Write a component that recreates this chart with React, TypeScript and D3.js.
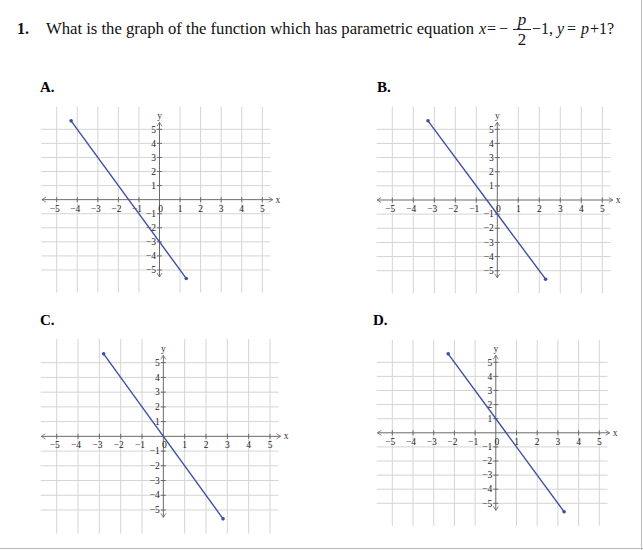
import React from 'react';
import * as d3 from 'd3';

// answer options, each one a line through two end points (p units)
const options = ['A.', 'B.', 'C.', 'D.'];
const lineA = [[-4.3, 5.6], [1.3, -5.6]];
const lineB = [[-3.3, 5.6], [2.3, -5.6]];
const lineC = [[-2.8, 5.6], [2.8, -5.6]];
const lineD = [[-2.3, 5.6], [3.3, -5.6]];
const lines = [lineA, lineB, lineC, lineD];

const ticks = [-5, -4, -3, -2, -1, 1, 2, 3, 4, 5];

// page boxes of each panel: x from -5 to 5, y from -5 to 5
const panels = [
  { label: [40, 92], xr: [56.7, 262.3], yr: [270, 129.3] },
  { label: [377, 92], xr: [392.3, 602.3], yr: [270.7, 129.3] },
  { label: [40, 325], xr: [56.7, 270], yr: [510, 362.7] },
  { label: [373, 325], xr: [392.3, 599.3], yr: [503.3, 362.3] },
];

const gridColor = '#d4d4d4';
const axisColor = '#6a6a6a';
const lineColor = '#3f4fa3';
const serif = '"Liberation Serif", "DejaVu Serif", serif';

function Panel({ box, pts, label }) {
  const x = d3.scaleLinear().domain([-5, 5]).range(box.xr);
  const y = d3.scaleLinear().domain([-5, 5]).range(box.yr);
  const line = d3.line().x(d => x(d[0])).y(d => y(d[1]));
  const x0 = x(0), y0 = y(0);

  return (
    <g>
      <text x={box.label[0]} y={box.label[1]} fontFamily={serif} fontWeight='bold' fontSize={15}>{label}</text>

  {/* grid */}
      {ticks.map(t => (
        <line key={'v' + t} x1={x(t)} x2={x(t)} y1={y(6.6)} y2={y(-6.6)} stroke={gridColor} />
      ))}
      {ticks.map(t => (
        <line key={'h' + t} x1={x(-5.75)} x2={x(5.4)} y1={y(t)} y2={y(t)} stroke={gridColor} />
      ))}

  {/* axes */}
      <line x1={x(-5.72)} x2={x(5.5)} y1={y0} y2={y0} stroke={axisColor} />
      <line x1={x0} x2={x0} y1={y(5.5)} y2={y(-5.5)} stroke={axisColor} />
      <path d={`M${x(-5.72) + 4},${y0 - 2.5}L${x(-5.72)},${y0}L${x(-5.72) + 4},${y0 + 2.5}`} fill='none' stroke={axisColor} strokeWidth={0.8} />
      <path d={`M${x(5.5) - 4},${y0 - 2.5}L${x(5.5)},${y0}L${x(5.5) - 4},${y0 + 2.5}`} fill='none' stroke={axisColor} strokeWidth={0.8} />
      <path d={`M${x0 - 2.5},${y(5.5) + 4}L${x0},${y(5.5)}L${x0 + 2.5},${y(5.5) + 4}`} fill='none' stroke={axisColor} strokeWidth={0.8} />
      <path d={`M${x0 - 2.5},${y(-5.5) - 4}L${x0},${y(-5.5)}L${x0 + 2.5},${y(-5.5) - 4}`} fill='none' stroke={axisColor} strokeWidth={0.8} />
      <text x={x(5.5) + 3} y={y0 + 3} fontFamily={serif} fontSize={9.5} fill='#333'>x</text>
      <text x={x0} y={y(5.5) - 3} fontFamily={serif} fontSize={9.5} fill='#333' textAnchor='middle'>y</text>

  {/* ticks and labels */}
      {ticks.map(t => (
        <g key={'xt' + t}>
          <line x1={x(t)} x2={x(t)} y1={y0 - 2.5} y2={y0 + 2.5} stroke={axisColor} />
          <text x={x(t) - (t < 0 ? 2 : 0)} y={y0 + 12} fontFamily={serif} fontSize={9.5} fill='#222' textAnchor='middle'>{t < 0 ? '\u2212' + (-t) : t}</text>
        </g>
      ))}
      {ticks.map(t => (
        <g key={'yt' + t}>
          <line x1={x0 - 2.5} x2={x0 + 2.5} y1={y(t)} y2={y(t)} stroke={axisColor} />
          <text x={x0 - 3.5} y={y(t) + 3.2} fontFamily={serif} fontSize={9.5} fill='#222' textAnchor='end'>{t < 0 ? '\u2212' + (-t) : t}</text>
        </g>
      ))}
      <text x={x0 + 1} y={y0 + 12} fontFamily={serif} fontSize={9.5} fill='#222' textAnchor='middle'>0</text>

  {/* the function */}
      <path d={line(pts)} fill='none' stroke={lineColor} strokeWidth={1.4} />
      {pts.map((p, i) => (
        <circle key={i} cx={x(p[0])} cy={y(p[1])} r={1.8} fill={lineColor} />
      ))}
    </g>
  );
}

export default function App() {
  return (
    <svg width={643} height={550} style={{ position: 'absolute', left: 0, top: 0, background: '#fff' }}>
      <rect x={0} y={0} width={643} height={550} fill='#fff' />

  {/* question */}
      <g fontFamily={serif} fontSize={16} fill='#111'>
        <text x={17} y={34} fontWeight='bold'>1.</text>
        <text x={46} y={34} textLength={428} lengthAdjust='spacingAndGlyphs'>What is the graph of the function which has parametric equation</text>
        <text x={479} y={34} fontStyle='italic'>x</text>
        <text x={487} y={34}>=</text>
        <text x={499} y={34}>{'\u2212'}</text>
        <text x={522} y={25} fontStyle='italic' fontSize={17} textAnchor='middle'>p</text>
        <line x1={513} x2={531} y1={29.5} y2={29.5} stroke='#111' strokeWidth={0.9} />
        <text x={522} y={45} fontSize={17} textAnchor='middle'>2</text>
        <text x={532} y={34}>{'\u2212'}1,</text>
        <text x={557} y={34} fontStyle='italic'>y</text>
        <text x={567} y={34}>=</text>
        <text x={581} y={34} fontStyle='italic'>p</text>
        <text x={590} y={34}>+1?</text>
      </g>

      {panels.map((b, i) => (
        <Panel key={i} box={b} pts={lines[i]} label={options[i]} />
      ))}

  {/* outer frame lines of the page */}
      <line x1={641.5} x2={641.5} y1={0} y2={550} stroke='#bbb' />
      <line x1={0} x2={643} y1={548.5} y2={548.5} stroke='#bbb' />
    </svg>
  );
}
